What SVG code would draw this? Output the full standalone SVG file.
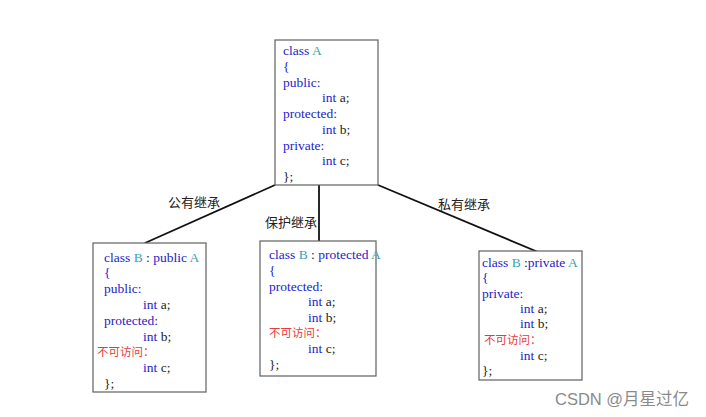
<svg xmlns="http://www.w3.org/2000/svg" width="706" height="417" viewBox="0 0 706 417">
<style>
.box{fill:#fff;stroke:#606060;stroke-width:1.2}
.t{font-family:"Liberation Serif",serif;font-size:13.5px;fill:#2323c8}
.n{fill:#3aa3b3}
.k{fill:#222}
.r{font-family:"Liberation Sans","Noto Sans CJK SC",sans-serif;font-size:11.5px;fill:#e83a3a}
.lbl{font-family:"Liberation Sans","Noto Sans CJK SC",sans-serif;font-size:13px;fill:#222}
.wm{font-family:"Liberation Sans","Noto Sans CJK SC",sans-serif;font-size:16.5px;fill:#8a8a8a}
.c{stroke:#111;stroke-width:1.8;fill:none}
</style>
<rect width="706" height="417" fill="#fff"/>
<g id="connectors">
<line class="c" x1="275" y1="185" x2="145" y2="243"/>
<line class="c" x1="319" y1="185" x2="319" y2="242"/>
<line class="c" x1="378" y1="185" x2="538" y2="252"/>
<text class="lbl" x="168" y="207">公有继承</text>
<text class="lbl" x="265" y="227">保护继承</text>
<text class="lbl" x="438" y="209">私有继承</text>
</g>
<g id="classA">
<rect class="box" x="275" y="40" width="103" height="145"/>
<text class="t" x="283" y="55">class <tspan class="n">A</tspan></text>
<text class="t" x="283" y="71">{</text>
<text class="t" x="283" y="87">public:</text>
<text class="t" x="322" y="102">int <tspan class="k">a;</tspan></text>
<text class="t" x="283" y="118">protected:</text>
<text class="t" x="322" y="134">int <tspan class="k">b;</tspan></text>
<text class="t" x="283" y="150">private:</text>
<text class="t" x="322" y="165">int <tspan class="k">c;</tspan></text>
<text class="t k" x="283" y="181">};</text>
</g>
<g id="classB_public">
<rect class="box" x="93" y="243" width="113" height="149"/>
<text class="t" x="104" y="262">class <tspan class="n">B</tspan> <tspan class="k">:</tspan> public <tspan class="n">A</tspan></text>
<text class="t" x="104" y="277">{</text>
<text class="t" x="104" y="293">public:</text>
<text class="t" x="143" y="309">int <tspan class="k">a;</tspan></text>
<text class="t" x="104" y="325">protected:</text>
<text class="t" x="143" y="341">int <tspan class="k">b;</tspan></text>
<text class="r" x="97" y="356">不可访问：</text>
<text class="t" x="143" y="372">int <tspan class="k">c;</tspan></text>
<text class="t k" x="104" y="388">};</text>
</g>
<g id="classB_protected">
<rect class="box" x="260" y="241" width="116" height="135"/>
<text class="t" x="269" y="259">class <tspan class="n">B</tspan> <tspan class="k">:</tspan> protected <tspan class="n">A</tspan></text>
<text class="t" x="269" y="275">{</text>
<text class="t" x="269" y="291">protected:</text>
<text class="t" x="308" y="306">int <tspan class="k">a;</tspan></text>
<text class="t" x="308" y="322">int <tspan class="k">b;</tspan></text>
<text class="r" x="269" y="337">不可访问：</text>
<text class="t" x="308" y="353">int <tspan class="k">c;</tspan></text>
<text class="t k" x="269" y="369">};</text>
</g>
<g id="classB_private">
<rect class="box" x="479" y="251" width="103" height="129"/>
<text class="t" x="482" y="267">class <tspan class="n">B</tspan> <tspan class="k">:</tspan>private  <tspan class="n">A</tspan></text>
<text class="t" x="482" y="282">{</text>
<text class="t" x="482" y="298">private:</text>
<text class="t" x="520" y="313">int <tspan class="k">a;</tspan></text>
<text class="t" x="520" y="328">int <tspan class="k">b;</tspan></text>
<text class="r" x="484" y="344">不可访问：</text>
<text class="t" x="520" y="360">int <tspan class="k">c;</tspan></text>
<text class="t k" x="482" y="375">};</text>
</g>
<text class="wm" x="555" y="405">CSDN @月星过亿</text>
</svg>
